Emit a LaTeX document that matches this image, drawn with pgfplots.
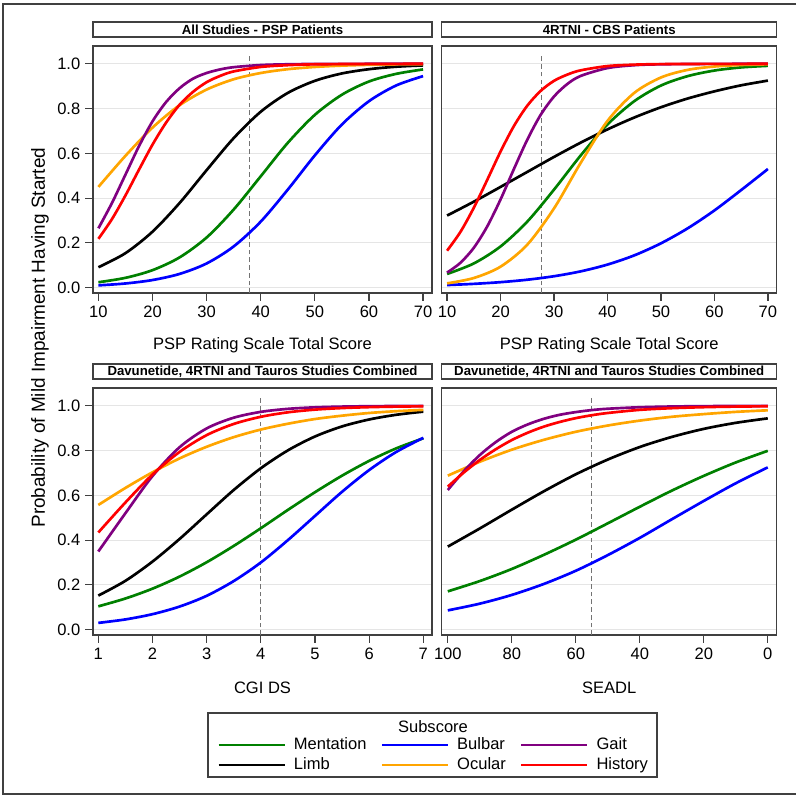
\documentclass[border=0pt]{standalone}
\usepackage{fontspec}
\setmainfont{Liberation Sans}
\usepackage{pgfplots}
\pgfplotsset{compat=1.18}
\definecolor{cgreen}{RGB}{0,128,0}
\definecolor{cblue}{RGB}{0,0,255}
\definecolor{cpurple}{RGB}{128,0,128}
\definecolor{corange}{RGB}{255,165,0}
\definecolor{cred}{RGB}{255,0,0}
\newcommand{\lblfont}{\fontsize{12.4}{14.5}\selectfont}
\pgfplotsset{
  panel/.style={
    scale only axis, height=185.3pt,
    ymin=-0.024, ymax=1.08,
    ytick={0,0.2,0.4,0.6,0.8,1.0},
    yticklabel style={/pgf/number format/.cd,fixed,fixed zerofill,precision=1},
    /pgf/number format/assume math mode=true,
    ymajorgrids, grid style={color=black!10, line width=0.7pt},
    axis line style={black!75, line width=1.1pt},
    every tick/.style={black!75, line width=0.9pt},
    major tick length=6pt, tick align=outside,
    xtick pos=left, ytick pos=left,
    tick label style={font=\lblfont},
    label style={font=\lblfont},
    xlabel style={at={(axis description cs:0.5,0)}, anchor=center, yshift=-39.5pt},
    title style={at={(axis description cs:0.5,1)}, anchor=south, draw=black!75, line width=1.1pt, fill=white, minimum height=11.25pt, inner sep=0pt, font=\bfseries\fontsize{9.9}{11}\selectfont},
  },
  crv/.style={line width=2pt, smooth, no markers},
  refl/.style={black!55, line width=0.8pt, dash pattern=on 3.5pt off 2.3pt, forget plot},
}
\begin{document}
\begin{tikzpicture}
\useasboundingbox (0pt,0pt) rectangle (600pt,596.25pt);
\draw[black!75, line width=1.3pt] (597pt,593.25pt) -- (2.25pt,593.25pt) -- (2.25pt,0.75pt) -- (597pt,0.75pt);

% Panel 1
\begin{axis}[panel, at={(69.75pt,376.5pt)}, anchor=south west, width=254.25pt,
  xmin=9, xmax=71.65, xtick={10,20,...,70},
  xlabel={PSP Rating Scale Total Score},
  title={All Studies - PSP Patients}, title style={minimum width=254.25pt}]
\addplot[refl] coordinates {(38,-0.024) (38,1.043)};
\addplot[crv, cgreen] coordinates {(10,0.024)(15,0.0437)(20,0.078)(25,0.135)(30,0.224)(35,0.349)(40,0.4975)(45,0.647)(50,0.772)(55,0.862)(60,0.921)(65,0.955)(70,0.975)};
\addplot[crv, cblue] coordinates {(10,0.010)(15,0.0185)(20,0.0339)(25,0.0612)(30,0.108)(35,0.184)(40,0.295)(45,0.438)(50,0.591)(55,0.729)(60,0.833)(65,0.903)(70,0.945)};
\addplot[crv, black] coordinates {(10,0.091)(15,0.154)(20,0.250)(25,0.378)(30,0.525)(35,0.668)(40,0.786)(45,0.870)(50,0.924)(55,0.957)(60,0.976)(65,0.987)(70,0.993)};
\addplot[crv, corange] coordinates {(10,0.450)(15,0.589)(20,0.715)(25,0.815)(30,0.885)(35,0.931)(40,0.959)(45,0.976)(50,0.986)(55,0.992)(60,0.9955)(65,0.9974)(70,0.9985)};
\addplot[crv, cpurple] coordinates {(10,0.265)(12.5,0.378)(15,0.505)(17.5,0.632)(20,0.743)(22.5,0.829)(25,0.891)(27.5,0.934)(30,0.959)(32.5,0.975)(35,0.985)(40,0.9946)(45,0.998)(50,0.9993)(60,1.0)(70,1.0)};
\addplot[crv, cred] coordinates {(10,0.218)(12.5,0.306)(15,0.412)(17.5,0.527)(20,0.639)(22.5,0.737)(25,0.817)(27.5,0.875)(30,0.918)(32.5,0.946)(35,0.966)(40,0.986)(45,0.994)(50,0.9978)(60,0.9997)(70,1.0)};
\end{axis}

% Panel 2
\begin{axis}[panel, at={(331.3pt,376.5pt)}, anchor=south west, width=251.25pt,
  xmin=9, xmax=71.65, xtick={10,20,...,70},
  yticklabels={}, ytick style={draw=none},
  xlabel={PSP Rating Scale Total Score},
  title={4RTNI - CBS Patients}, title style={minimum width=251.25pt}]
\addplot[refl] coordinates {(27.7,-0.024) (27.7,1.043)};
\addplot[crv, cgreen] coordinates {(10,0.061)(15,0.108)(20,0.184)(25,0.295)(30,0.438)(35,0.591)(40,0.729)(45,0.833)(50,0.903)(55,0.945)(60,0.970)(65,0.984)(70,0.991)};
\addplot[crv, cblue] coordinates {(10,0.0115)(15,0.0168)(20,0.0244)(25,0.0353)(30,0.0509)(35,0.0727)(40,0.103)(45,0.144)(50,0.198)(55,0.265)(60,0.345)(65,0.436)(70,0.530)};
\addplot[crv, black] coordinates {(10,0.322)(15,0.384)(20,0.450)(25,0.517)(30,0.584)(35,0.648)(40,0.707)(45,0.760)(50,0.806)(55,0.845)(60,0.877)(65,0.904)(70,0.925)};
\addplot[crv, corange] coordinates {(10,0.019)(15,0.0429)(20,0.0936)(25,0.192)(30,0.354)(35,0.558)(40,0.745)(45,0.870)(50,0.939)(55,0.973)(60,0.988)(65,0.9948)(70,0.9977)};
\addplot[crv, cpurple] coordinates {(10,0.067)(12.5,0.111)(15,0.178)(17.5,0.273)(20,0.394)(22.5,0.530)(25,0.661)(27.5,0.772)(30,0.854)(32.5,0.910)(35,0.946)(40,0.981)(45,0.9938)(50,0.9979)(60,0.9998)(70,1.0)};
\addplot[crv, cred] coordinates {(10,0.165)(12.5,0.249)(15,0.357)(17.5,0.481)(20,0.608)(22.5,0.722)(25,0.813)(27.5,0.879)(30,0.924)(32.5,0.952)(35,0.971)(40,0.990)(45,0.9963)(50,0.9987)(60,0.9998)(70,1.0)};
\end{axis}

% Panel 3
\begin{axis}[panel, at={(69.75pt,120pt)}, anchor=south west, width=254.25pt,
  xmin=0.902, xmax=7.16, xtick={1,2,...,7},
  xlabel={CGI DS},
  title={Davunetide, 4RTNI and Tauros Studies Combined}, title style={minimum width=254.25pt}]
\addplot[refl] coordinates {(4,-0.024) (4,1.043)};
\addplot[crv, cgreen] coordinates {(1,0.104)(1.5,0.139)(2,0.183)(2.5,0.237)(3,0.301)(3.5,0.374)(4,0.453)(4.5,0.535)(5,0.614)(5.5,0.688)(6,0.754)(6.5,0.810)(7,0.855)};
\addplot[crv, cblue] coordinates {(1,0.030)(1.5,0.0456)(2,0.0690)(2.5,0.103)(3,0.151)(3.5,0.217)(4,0.300)(4.5,0.400)(5,0.508)(5.5,0.616)(6,0.713)(6.5,0.794)(7,0.857)};
\addplot[crv, black] coordinates {(1,0.152)(1.5,0.218)(2,0.304)(2.5,0.405)(3,0.515)(3.5,0.624)(4,0.721)(4.5,0.801)(5,0.863)(5.5,0.908)(6,0.939)(6.5,0.960)(7,0.974)};
\addplot[crv, corange] coordinates {(1,0.557)(1.5,0.633)(2,0.703)(2.5,0.765)(3,0.817)(3.5,0.860)(4,0.894)(4.5,0.920)(5,0.941)(5.5,0.956)(6,0.968)(6.5,0.976)(7,0.982)};
\addplot[crv, cpurple] coordinates {(1,0.349)(1.5,0.520)(2,0.686)(2.5,0.815)(3,0.899)(3.5,0.947)(4,0.973)(4.5,0.9865)(5,0.9933)(5.5,0.9966)(6,0.9983)(6.5,0.9992)(7,0.9996)};
\addplot[crv, cred] coordinates {(1,0.434)(1.5,0.568)(2,0.693)(2.5,0.794)(3,0.869)(3.5,0.919)(4,0.951)(4.5,0.971)(5,0.983)(5.5,0.990)(6,0.9941)(6.5,0.9965)(7,0.998)};
\end{axis}

% Panel 4
\begin{axis}[panel, at={(331.3pt,120pt)}, anchor=south west, width=251.25pt,
  x dir=reverse, xmin=-2.8, xmax=101.9, xtick={0,20,...,100},
  yticklabels={}, ytick style={draw=none},
  xlabel={SEADL},
  title={Davunetide, 4RTNI and Tauros Studies Combined}, title style={minimum width=251.25pt}]
\addplot[refl] coordinates {(55,-0.024) (55,1.043)};
\addplot[crv, cgreen] coordinates {(100,0.171)(90,0.217)(80,0.271)(70,0.334)(60,0.402)(50,0.475)(40,0.549)(30,0.621)(20,0.687)(10,0.747)(0,0.799)};
\addplot[crv, cblue] coordinates {(100,0.086)(90,0.116)(80,0.155)(70,0.204)(60,0.263)(50,0.333)(40,0.410)(30,0.493)(20,0.575)(10,0.654)(0,0.725)};
\addplot[crv, black] coordinates {(100,0.371)(90,0.452)(80,0.536)(70,0.618)(60,0.694)(50,0.760)(40,0.816)(30,0.861)(20,0.897)(10,0.924)(0,0.944)};
\addplot[crv, corange] coordinates {(100,0.688)(90,0.750)(80,0.804)(70,0.848)(60,0.884)(50,0.912)(40,0.934)(30,0.951)(20,0.963)(10,0.973)(0,0.980)};
\addplot[crv, cpurple] coordinates {(100,0.624)(95,0.708)(90,0.780)(85,0.838)(80,0.884)(75,0.917)(70,0.942)(65,0.960)(60,0.972)(55,0.981)(50,0.987)(40,0.9937)(30,0.997)(20,0.9986)(10,0.9993)(0,0.9997)};
\addplot[crv, cred] coordinates {(100,0.639)(95,0.702)(90,0.758)(85,0.806)(80,0.847)(75,0.880)(70,0.907)(65,0.928)(60,0.945)(55,0.958)(50,0.968)(40,0.982)(30,0.9895)(20,0.994)(10,0.9966)(0,0.998)};
\end{axis}

% shared y label
\node[rotate=90, font=\fontsize{14.2}{16}\selectfont] at (30pt,343pt) {Probability of Mild Impairment Having Started};

% legend
\draw[black!75, line width=1.1pt] (156pt,13.5pt) rectangle (492.75pt,61.5pt);
\node[font=\lblfont] at (324.75pt,51pt) {Subscore};
\begin{axis}[at={(156pt,13.5pt)}, anchor=south west, scale only axis, width=336.75pt, height=48pt,
  hide axis, xmin=0, xmax=1, ymin=0, ymax=1,
  legend columns=3, legend cell align=left,
  legend image code/.code={\draw[#1, line width=2pt] (0pt,0pt) -- (49.5pt,0pt);},
  legend style={draw=none, fill=none, inner sep=0pt, at={(axis description cs:0.02,0.625)}, anchor=north west, font=\lblfont,
    nodes={inner sep=0pt, text height=9pt, text depth=2.6pt}, row sep=3.4pt,
    /tikz/every odd column/.append style={column sep=6pt},
    /tikz/every even column/.append style={column sep=10.5pt}}]
\addlegendimage{cgreen}\addlegendentry{Mentation}
\addlegendimage{cblue}\addlegendentry{Bulbar}
\addlegendimage{cpurple}\addlegendentry{Gait}
\addlegendimage{black}\addlegendentry{Limb}
\addlegendimage{corange}\addlegendentry{Ocular}
\addlegendimage{cred}\addlegendentry{History}
\end{axis}
\end{tikzpicture}
\end{document}
